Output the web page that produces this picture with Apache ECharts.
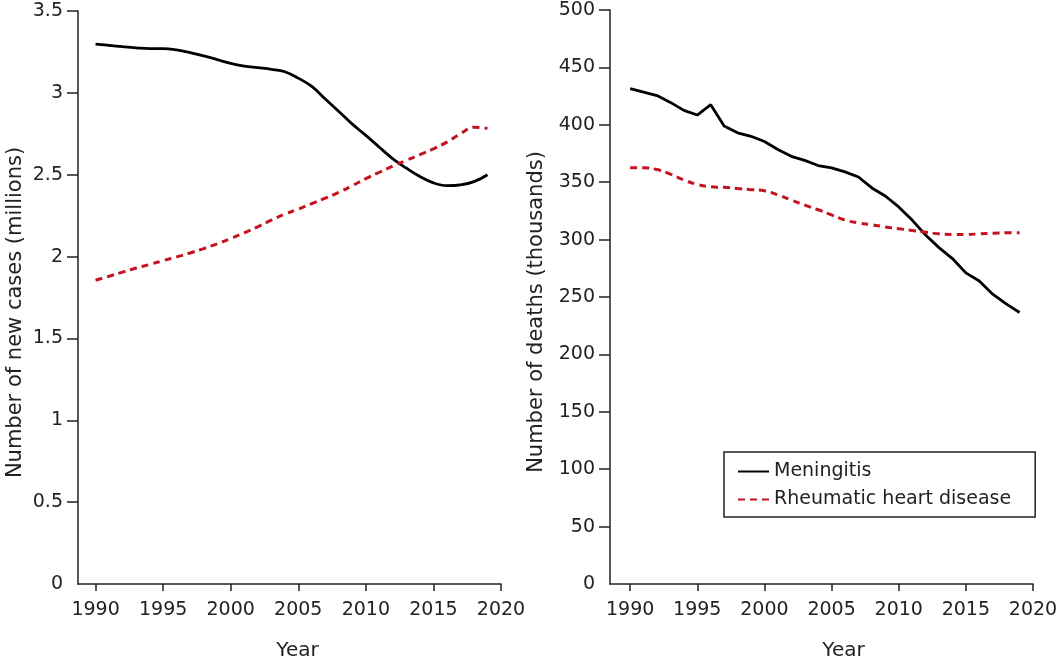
<!DOCTYPE html>
<html>
<head>
<meta charset="utf-8">
<script src="https://cdn.jsdelivr.net/npm/echarts@6/dist/echarts.min.js"></script>
<style>
html,body{margin:0;padding:0;background:#fff;}
#chart{width:1064px;height:666px;}
</style>
</head>
<body>
<div id="chart"></div>
<script>
const years = [1990,1991,1992,1993,1994,1995,1996,1997,1998,1999,2000,2001,2002,2003,2004,2005,2006,2007,2008,2009,2010,2011,2012,2013,2014,2015,2016,2017,2018,2019];
const xTickLabels = [1990,1995,2000,2005,2010,2015,2020];
const casesTicks = [0.5,1,1.5,2,2.5,3,3.5];
const deathsTicks = [50,100,150,200,250,300,350,400,450,500];

// New cases (millions)
const meningitisCases = [3.298,3.29,3.282,3.275,3.27,3.27,3.262,3.246,3.226,3.203,3.18,3.164,3.154,3.144,3.129,3.09,3.039,2.962,2.886,2.809,2.74,2.668,2.597,2.54,2.489,2.45,2.433,2.438,2.458,2.50];
const rhdCases = [1.855,1.88,1.905,1.93,1.952,1.975,1.998,2.022,2.049,2.078,2.11,2.145,2.182,2.222,2.259,2.29,2.323,2.357,2.392,2.433,2.476,2.515,2.553,2.588,2.622,2.658,2.699,2.75,2.79,2.783];

// Deaths (thousands)
const meningitisDeaths = [431.5,428.5,425.5,419.5,412.6,408.5,417.5,399,393,390,385.5,378.5,372.5,369,364.5,362.5,359,354.5,345,338,328.5,317,304,293,283.5,271,264,252.5,244,236.5];
const rhdDeaths = [362.5,362.5,361,357,352,348,346,345.5,344.5,343.5,342.5,339,334.5,330,326,321.5,317,314.5,313,311,309.5,308,306.5,305,304.5,304.5,305,305.5,306,306];

const seriesNames = ['Meningitis','Rheumatic heart disease'];

const pair = (xs, ys) => xs.map((x,i)=>[x, ys[i]]);
const FONT = 'DejaVu Sans';
const TXT = '#222';
const RED = '#c4121f';

const axisLine = {show:true, lineStyle:{color:'#222', width:1.5}};
function xAxis(gridIndex, min, shift){
  return {
    type:'value', gridIndex, min, max:2020,
    name:'Year', nameLocation:'middle', nameGap:57,
    nameTextStyle:{fontFamily:FONT, fontSize:20, color:TXT, padding:[0,0,0,shift]},
    axisLine,
    axisTick:{show:true, length:7, lineStyle:{color:'#222', width:1.5}, customValues:xTickLabels},
    axisLabel:{fontFamily:FONT, fontSize:19, color:TXT, margin:17, customValues:xTickLabels, formatter:v=>String(v)},
    splitLine:{show:false}
  };
}
function yAxis(gridIndex, max, interval, ticks, name, gap){
  return {
    type:'value', gridIndex, min:0, max, interval,
    name, nameLocation:'middle', nameGap:gap,
    nameTextStyle:{fontFamily:FONT, fontSize:21, color:TXT, padding:[0,0,0,-30]},
    axisLine,
    axisTick:{show:true, length:11, lineStyle:{color:'#222', width:1.5}, customValues:ticks},
    axisLabel:{fontFamily:FONT, fontSize:19, color:TXT, margin:15},
    splitLine:{show:false}
  };
}

const chart = echarts.init(document.getElementById('chart'));
chart.setOption({
  backgroundColor:'#fff',
  animation:false,
  grid:[
    {left:78, right:563, top:11, bottom:74, containLabel:false},
    {left:610, right:31, top:10, bottom:74, containLabel:false}
  ],
  xAxis:[xAxis(0,1988.7,16), xAxis(1,1988.5,44)],
  yAxis:[
    yAxis(0,3.5,0.5,casesTicks,'Number of new cases (millions)',52),
    yAxis(1,500,50,deathsTicks,'Number of deaths (thousands)',63)
  ],
  legend:{
    orient:'vertical', left:724, top:452,
    data:seriesNames,
    itemWidth:31, itemHeight:14, itemGap:9, itemTextGap:10,
    padding:[10,24,8,13],
    borderColor:'#222', borderWidth:1.5,
    itemStyle:{opacity:0},
    textStyle:{fontFamily:FONT, fontSize:19, color:TXT}
  },
  series:[
    {name:seriesNames[0], type:'line', xAxisIndex:0, yAxisIndex:0, data:pair(years, meningitisCases),
     symbol:'none', smooth:0.4, lineStyle:{color:'#000', width:2.8}, itemStyle:{color:'#000'}},
    {name:seriesNames[1], type:'line', xAxisIndex:0, yAxisIndex:0, data:pair(years, rhdCases),
     symbol:'none', smooth:0.4, lineStyle:{color:RED, width:3, type:[7,5]}, itemStyle:{color:RED}},
    {name:seriesNames[0], type:'line', xAxisIndex:1, yAxisIndex:1, data:pair(years, meningitisDeaths),
     symbol:'none', smooth:false, lineStyle:{color:'#000', width:2.8}, itemStyle:{color:'#000'}},
    {name:seriesNames[1], type:'line', xAxisIndex:1, yAxisIndex:1, data:pair(years, rhdDeaths),
     symbol:'none', smooth:0.4, lineStyle:{color:RED, width:3, type:[7,5]}, itemStyle:{color:RED}}
  ]
});
</script>
</body>
</html>
